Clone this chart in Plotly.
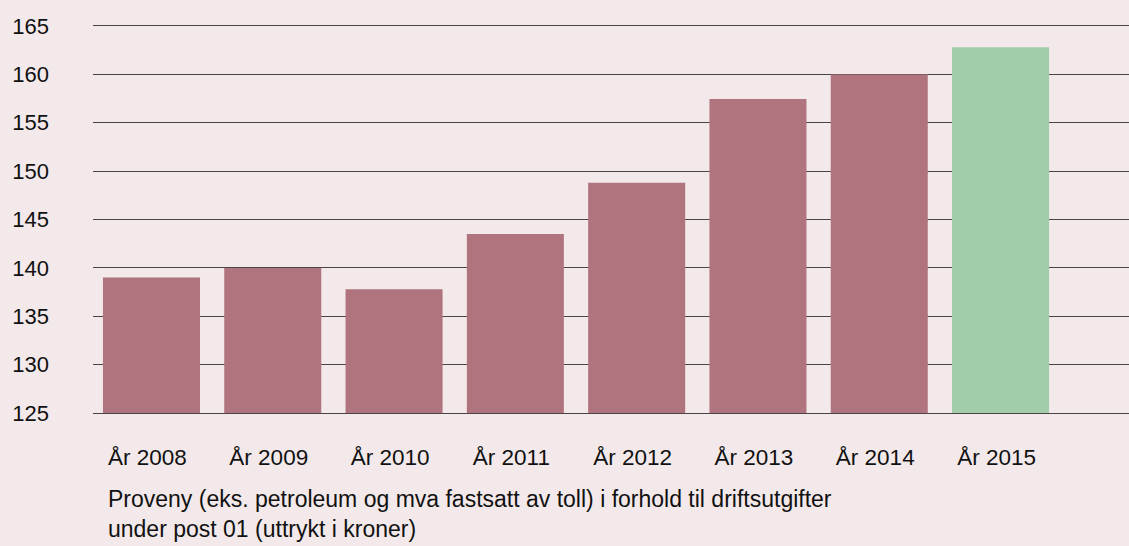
import plotly.graph_objects as go

categories = ["År 2008", "År 2009", "År 2010", "År 2011", "År 2012", "År 2013", "År 2014", "År 2015"]
values = [139.0, 140.0, 137.8, 143.5, 148.8, 157.45, 160.0, 162.8]
colors = ["#b0747e"] * 7 + ["#a2cdaa"]
y_ticks = [125, 130, 135, 140, 145, 150, 155, 160, 165]
caption = "Proveny (eks. petroleum og mva fastsatt av toll) i forhold til driftsutgifter<br>under post 01 (uttrykt i kroner)"

FONT = "Liberation Sans, Arial, Helvetica, sans-serif"
BG = "#f3e9ea"
GRID = "#4a4446"

fig = go.Figure(go.Bar(
    x=list(range(len(categories))), y=values,
    marker=dict(color=colors, line=dict(width=0)),
    width=0.8,
))

fig.update_layout(
    width=1129, height=546,
    paper_bgcolor=BG, plot_bgcolor=BG,
    margin=dict(l=93, r=0, t=26, b=133),
    showlegend=False,
    font=dict(family=FONT, size=22, color="#111111"),
)
fig.update_xaxes(
    range=[-0.482, 8.059],
    tickmode="array", tickvals=list(range(len(categories))), ticktext=categories,
    showgrid=False, zeroline=False,
    showline=True, mirror=True, linecolor=GRID, linewidth=1,
    ticks="",
    ticklabelstandoff=24, ticklabelshift=-4,
    tickfont=dict(family=FONT, size=22.5, color="#111111"),
)
fig.update_yaxes(
    range=[125, 165],
    tickmode="array", tickvals=y_ticks,
    showgrid=True, gridcolor=GRID, gridwidth=1,
    zeroline=False, showline=False, ticks="",
    ticklabelstandoff=43,
    tickfont=dict(family=FONT, size=22, color="#111111"),
)
fig.add_annotation(
    text=caption, xref="paper", yref="paper",
    x=(106 - 93) / 1036, y=-0.183, xanchor="left", yanchor="top",
    align="left", showarrow=False,
    font=dict(family=FONT, size=23, color="#111111"),
)
fig.write_html(
    "out.html",
    config={"displayModeBar": False},
    post_script="document.body.style.margin='0';document.body.style.background='#f3e9ea';",
)
